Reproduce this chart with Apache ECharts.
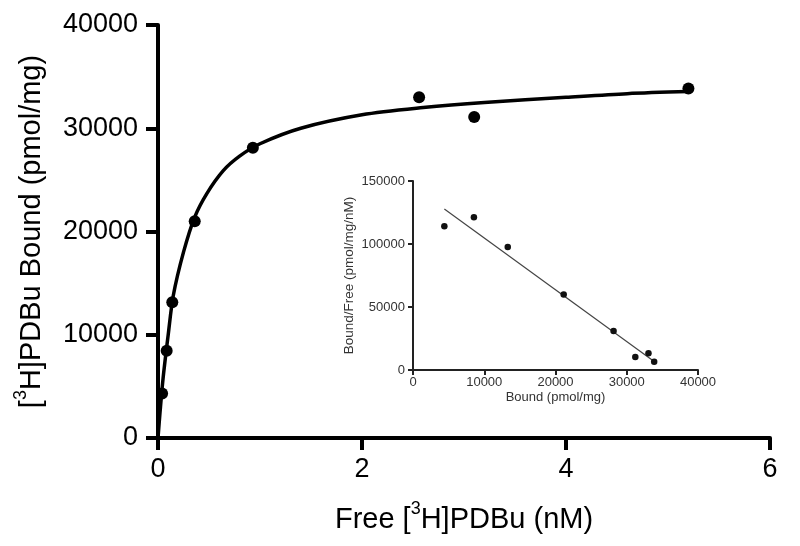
<!DOCTYPE html>
<html>
<head>
<meta charset="utf-8">
<title>PDBu saturation binding</title>
<script src="https://cdn.jsdelivr.net/npm/echarts@6/dist/echarts.min.js"></script>
<style>
  html, body { margin: 0; padding: 0; background: #fff; }
  #chart { width: 800px; height: 546px; }
</style>
</head>
<body>
<div id="chart"></div>
<script>
// main plot: free ligand (nM) vs bound (pmol/mg)
const freeConc = [0.04, 0.085, 0.14, 0.36, 0.93, 2.56, 3.1, 5.2];
const boundVals = [4300, 8450, 13150, 21000, 28100, 33000, 31100, 33850];

// fitted curve
const curveX = [0, 0.02, 0.05, 0.1, 0.15, 0.25, 0.36, 0.48, 0.64, 0.8, 1.0, 1.4, 2.0, 2.6, 3.2, 4.0, 4.6, 5.2];
const curveY = [0, 2500, 5800, 10000, 13800, 18000, 21400, 23700, 25900, 27300, 28500, 30000, 31300, 32000, 32500, 33000, 33350, 33550];

// inset (Scatchard): bound vs bound/free
const scatBound = [4400, 8550, 13300, 21150, 28150, 31200, 33050, 33850];
const scatRatio = [114000, 121200, 97700, 59900, 30900, 10300, 13200, 6600];

// regression line ends
const fitBound = [4400, 33900];
const fitRatio = [127800, 6600];

const mainTicksX = [0, 2, 4, 6];
const mainTicksY = [0, 10000, 20000, 30000, 40000];

const font = 'Liberation Sans, Arial, sans-serif';

const chart = echarts.init(document.getElementById('chart'));

// rich styles for the superscript 3 in axis names
const nameRich = {
  n: { fontSize: 29, lineHeight: 34, verticalAlign: 'bottom', fontFamily: font, color: '#000' },
  sup: { fontSize: 18, lineHeight: 18, verticalAlign: 'top', fontFamily: font, color: '#000' }
};

const plain = v => String(v);

const option = {
  animation: false,
  backgroundColor: '#fff',
  grid: [
    { left: 158, right: 30, top: 25, bottom: 108 },
    { left: 413, right: 102, top: 181, bottom: 176 }
  ],
  xAxis: [
    {
      gridIndex: 0,
      type: 'value',
      min: mainTicksX[0],
      max: mainTicksX[mainTicksX.length - 1],
      interval: 2,
      splitLine: { show: false },
      axisLine: { lineStyle: { color: '#000', width: 4 } },
      axisTick: { length: 12, lineStyle: { color: '#000', width: 4 } },
      axisLabel: { color: '#000', fontSize: 27, fontFamily: font, margin: 18, formatter: plain },
      name: '{n|Free [}{sup|3}{n|H]PDBu (nM)}',
      nameLocation: 'middle',
      nameGap: 62,
      nameTextStyle: { rich: nameRich }
    },
    {
      gridIndex: 1,
      type: 'value',
      min: 0,
      max: 40000,
      interval: 10000,
      splitLine: { show: false },
      axisLine: { lineStyle: { color: '#222', width: 2 } },
      axisTick: { length: 5, lineStyle: { color: '#222', width: 2 } },
      axisLabel: { color: '#333', fontSize: 13, fontFamily: font, margin: 6, formatter: plain },
      name: 'Bound (pmol/mg)',
      nameLocation: 'middle',
      nameGap: 21,
      nameTextStyle: { color: '#333', fontSize: 13, fontFamily: font }
    }
  ],
  yAxis: [
    {
      gridIndex: 0,
      type: 'value',
      min: mainTicksY[0],
      max: mainTicksY[mainTicksY.length - 1],
      interval: 10000,
      splitLine: { show: false },
      axisLine: { lineStyle: { color: '#000', width: 4 } },
      axisTick: { length: 12, lineStyle: { color: '#000', width: 4 } },
      axisLabel: { color: '#000', fontSize: 27, fontFamily: font, margin: 20, formatter: plain },
      name: '{n|[}{sup|3}{n|H]PDBu Bound (pmol/mg)}',
      nameLocation: 'middle',
      nameGap: 112,
      nameRotate: 90,
      nameTextStyle: { rich: nameRich }
    },
    {
      gridIndex: 1,
      type: 'value',
      min: 0,
      max: 150000,
      interval: 50000,
      splitLine: { show: false },
      axisLine: { lineStyle: { color: '#222', width: 2 } },
      axisTick: { length: 5, lineStyle: { color: '#222', width: 2 } },
      axisLabel: { color: '#333', fontSize: 13, fontFamily: font, margin: 8, formatter: plain },
      name: 'Bound/Free (pmol/mg/nM)',
      nameLocation: 'middle',
      nameGap: 57,
      nameRotate: 90,
      nameTextStyle: { color: '#333', fontSize: 13.5, fontFamily: font }
    }
  ],
  series: [
    {
      type: 'line',
      xAxisIndex: 0,
      yAxisIndex: 0,
      data: curveX.map((x, i) => [x, curveY[i]]),
      smooth: 0.3,
      showSymbol: false,
      lineStyle: { color: '#000', width: 3.5 },
      z: 3
    },
    {
      type: 'scatter',
      xAxisIndex: 0,
      yAxisIndex: 0,
      data: freeConc.map((x, i) => [x, boundVals[i]]),
      symbolSize: 12,
      itemStyle: { color: '#000', opacity: 1 },
      z: 4
    },
    {
      type: 'line',
      xAxisIndex: 1,
      yAxisIndex: 1,
      data: fitBound.map((x, i) => [x, fitRatio[i]]),
      showSymbol: false,
      lineStyle: { color: '#444', width: 1.2 },
      z: 3
    },
    {
      type: 'scatter',
      xAxisIndex: 1,
      yAxisIndex: 1,
      data: scatBound.map((x, i) => [x, scatRatio[i]]),
      symbolSize: 6.5,
      itemStyle: { color: '#111', opacity: 1 },
      z: 4
    }
  ]
};

chart.setOption(option);
</script>
</body>
</html>
